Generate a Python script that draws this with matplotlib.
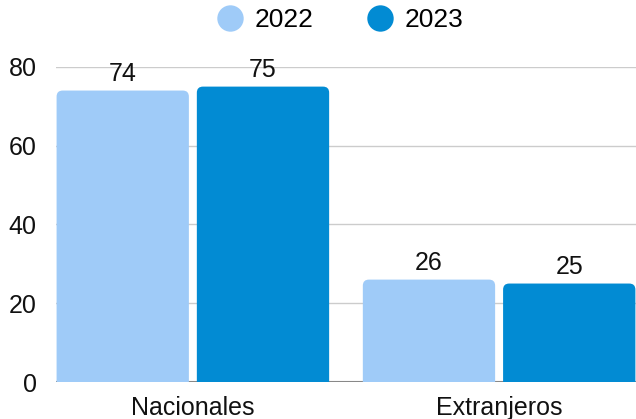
import matplotlib
matplotlib.use("Agg")
import matplotlib.pyplot as plt
from matplotlib.patches import FancyBboxPatch
from matplotlib.lines import Line2D
import numpy as np

categories = ["Nacionales", "Extranjeros"]
years = ["2022", "2023"]
values_2022 = [74, 26]
values_2023 = [75, 25]

COL_2022 = "#9FCBF8"
COL_2023 = "#028BD3"

plt.rcParams["font.family"] = ["Liberation Sans", "DejaVu Sans"]
FS = 18

fig = plt.figure(figsize=(6.36, 4.19), dpi=100)
ax = fig.add_axes([0.088, 0.0883, 0.912, 0.752])

x = np.arange(len(categories))
w = 0.432
off = 0.229

bars = []
for vals, col, sgn in [(values_2022, COL_2022, -1), (values_2023, COL_2023, 1)]:
    bc = ax.bar(x + sgn * off, vals, w, color=col)
    bars.append(bc)

# swap plain bars for rounded-top versions
for bc in bars:
    for p in bc.patches:
        x0, y0 = p.get_x(), p.get_y()
        bw, bh = p.get_width(), p.get_height()
        r = FancyBboxPatch((x0, y0 - 6), bw, bh + 6,
                           boxstyle="round,pad=0,rounding_size=0.02",
                           mutation_aspect=77, facecolor=p.get_facecolor(),
                           edgecolor="none", zorder=2)
        ax.add_patch(r)
        p.set_visible(False)
        ax.annotate(f"{bh:.0f}", (x0 + bw / 2, bh), xytext=(0, 3),
                    textcoords="offset points", ha="center", va="bottom",
                    fontsize=FS, color="#111111", annotation_clip=False)

ax.set_xlim(-0.447, 1.447)
ax.set_ylim(0, 80)
ax.set_yticks([0, 20, 40, 60, 80])
ax.set_xticks(x)
ax.set_xticklabels(categories)
ax.tick_params(axis="both", length=0, labelsize=FS, colors="#111111")
ax.tick_params(axis="y", pad=14)
ax.tick_params(axis="x", pad=10)
ax.yaxis.grid(True, color="#cccccc", linewidth=1)
ax.set_axisbelow(True)
for s in ax.spines.values():
    s.set_visible(False)
ax.axhline(0, color="#888888", linewidth=1.5, zorder=1)

handles = [Line2D([], [], marker="o", linestyle="none", markersize=19,
                  markerfacecolor=c, markeredgecolor="none")
           for c in (COL_2022, COL_2023)]
fig.legend(handles, years, loc="center", bbox_to_anchor=(0.535, 0.952),
           ncol=2, frameon=False, fontsize=19, handletextpad=0.45,
           columnspacing=2.0, handlelength=1.0)

fig.savefig("out.png", dpi=100)
